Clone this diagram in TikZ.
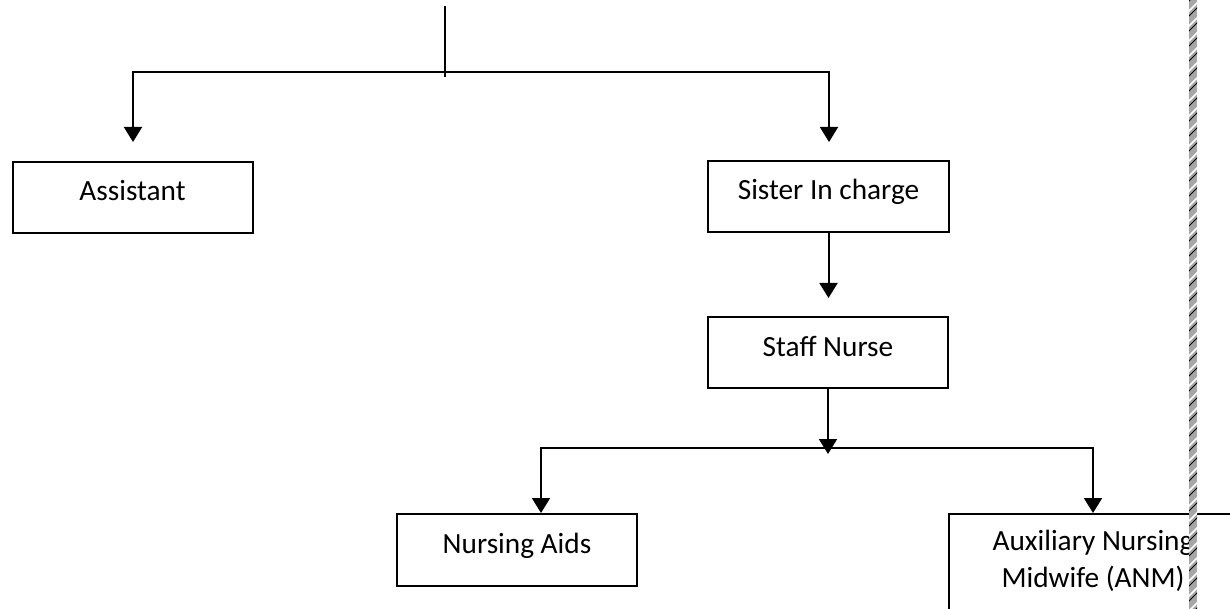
\documentclass[tikz,border=0pt]{standalone}
\usepackage{fontspec}
\setmainfont{Carlito}
\usetikzlibrary{arrows.meta}
\begin{document}
\begin{tikzpicture}[x=1pt,y=-1pt,
  lbl/.style={font=\fontsize{29.3pt}{37pt}\selectfont},
  box/.style={lbl,draw,line width=2pt,minimum width=240pt,minimum height=71pt,inner sep=0pt,text height=21pt,text depth=14pt},
  conn/.style={line width=2pt},
  arr/.style={conn,-{Triangle[width=18pt,length=15pt]}}]
\useasboundingbox (0,0) rectangle (1230,609);
\clip (0,0) rectangle (1230,609);
% coordinates
\coordinate (top) at (445,6);
\coordinate (topend) at (445,77);
\coordinate (jl) at (133,72);
\coordinate (jr) at (829,72);
\coordinate (kl) at (541,448);
\coordinate (kr) at (1093,448);
\coordinate (kend) at (828,454);
% nodes
\node[box] (assistant) at (132.5,197.5) {Assistant};
\node[box,minimum width=241pt] (sister) at (828.5,196.5) {Sister In charge};
\node[box] (staff) at (828,352.5) {Staff Nurse};
\node[box,minimum height=72pt] (aids) at (517,550) {Nursing Aids};
\node[draw,line width=2pt,minimum width=290pt,minimum height=130pt,anchor=north west,inner sep=0pt] (anm) at (948,513) {};
\node[lbl,align=center,anchor=base] (anmtext) at (1093,587) {Auxiliary Nursing\\Midwife (ANM)};
% connectors
\draw[conn] (top) -- (topend);
\draw[arr,shorten >=19pt] (jr) -- (jl) -- (jl |- assistant.north);
\draw[arr,shorten >=18pt] (jl) -- (jr) -- (jr |- sister.north);
\draw[arr,shorten >=18pt] (sister.south) -- (sister.south |- staff.north);
\draw[arr] (staff.south) -- (kend);
\draw[arr] (kr) -- (kl) -- (kl |- aids.north);
\draw[arr] (kl) -- (kr) -- (kr |- anm.north);
% hatched strip
\begin{scope}
\clip (1189,0) rectangle (1197,609);
\fill[gray!70] (1189,0) rectangle (1197,609);
\foreach \i in {0,15,...,640} {
  \draw[white,line width=1.5pt] (1185,\i) -- (1201,\i-16);
  \draw[black,line width=1pt] (1185,\i+5) -- (1201,\i-11);
}
\end{scope}
\end{tikzpicture}
\end{document}
